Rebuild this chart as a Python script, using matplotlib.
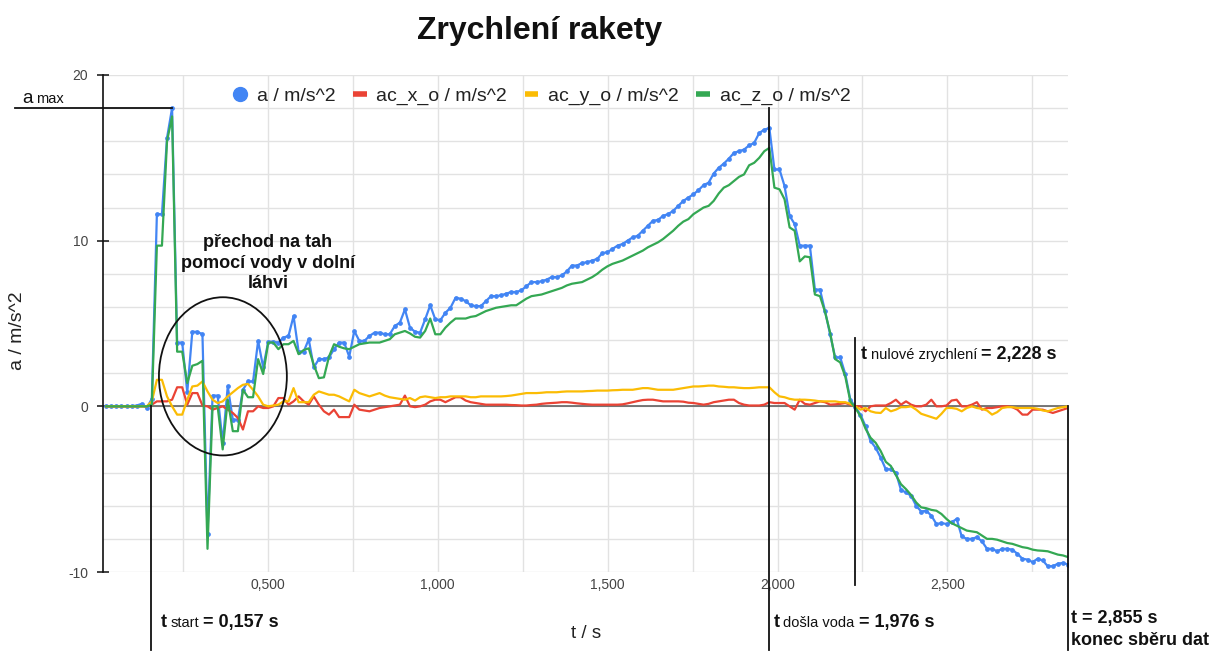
import numpy as np
import matplotlib.pyplot as plt
from matplotlib.patches import Ellipse
from matplotlib.lines import Line2D
from matplotlib.ticker import MultipleLocator, FixedLocator, FixedFormatter

plt.rcParams['font.family'] = ['Liberation Sans', 'DejaVu Sans']
plt.rcParams['axes.unicode_minus'] = False

# accelerometer log, one value per sample (m/s^2)
a_total = [
    0, 0, 0, 0, 0, 0, 0.05, 0.15, -0.1, 0.45,
    11.6, 11.6, 16.2, 18.0, 3.85, 3.85, 0.85, 4.5, 4.5, 4.35,
    -7.7, 0.65, 0.65, -2.2, 1.2, -0.8, -0.8, 1.0, 1.5, 1.5,
    3.95, 2.35, 3.9, 3.9, 3.85, 4.15, 4.25, 5.45, 3.3, 3.3,
    4.05, 2.35, 2.85, 2.85, 2.95, 3.45, 3.85, 3.85, 3.0, 4.55,
    3.95, 3.95, 4.25, 4.45, 4.45, 4.35, 4.35, 4.85, 5.05, 5.85,
    4.75, 4.5, 4.45, 5.25, 6.1, 5.25, 5.2, 5.65, 5.95, 6.55,
    6.5, 6.35, 6.1, 6.05, 6.05, 6.35, 6.65, 6.65, 6.7, 6.8,
    6.9, 6.9, 7.0, 7.25, 7.5, 7.5, 7.55, 7.65, 7.8, 7.8,
    7.9, 8.15, 8.5, 8.5, 8.65, 8.7, 8.8, 8.9, 9.25, 9.3,
    9.5, 9.7, 9.8, 10.0, 10.2, 10.3, 10.6, 10.9, 11.2, 11.25,
    11.5, 11.6, 11.8, 12.1, 12.4, 12.6, 12.8, 13.05, 13.35, 13.5,
    14.05, 14.4, 14.65, 14.95, 15.3, 15.4, 15.5, 15.75, 15.9, 16.5,
    16.7, 16.8, 14.3, 14.3, 13.3, 11.5, 11.0, 9.7, 9.7, 9.7,
    7.05, 7.05, 5.75, 4.35, 2.95, 2.95, 1.95, 0.4, -0.05, -0.5,
    -1.2, -2.1, -2.5, -3.1, -3.8, -3.8, -4.0, -5.05, -5.2, -5.4,
    -6.0, -6.35, -6.3, -6.6, -7.1, -7.05, -7.1, -7.0, -6.8, -7.85,
    -8.0, -8.0, -7.9, -8.15, -8.6, -8.6, -8.75, -8.6, -8.6, -8.65,
    -8.9, -9.2, -9.25, -9.4, -9.2, -9.3, -9.65, -9.65, -9.5, -9.45,
    -9.55,
]
ac_x = [
    0, 0, 0, 0, 0, 0, 0, 0, 0, 0.1,
    0.3, 0.3, 0.3, 0.4, 1.15, 1.15, 0.1, 0.8, 0.8, 0.05,
    0, -0.2, -0.1, 0, -0.2, -0.4, -0.7, -1.4, -0.3, -0.3,
    0, -0.1, -0.1, 0, 0.5, 0.5, 0.1, 0.3, 0.6, 0.3,
    0.1, 0.6, 0.1, -0.3, -0.5, -0.2, -0.65, -0.65, -0.65, 0.1,
    -0.2, -0.25, -0.3, -0.2, -0.1, -0.05, 0, 0.05, 0.1, 0.65,
    0, -0.05, 0, 0.1, 0.3, 0.4, 0.4, 0.25, 0.4, 0.55,
    0.55, 0.35, 0.25, 0.2, 0.15, 0.1, 0.1, 0.1, 0.1, 0.1,
    0.08, 0.07, 0.05, 0.05, 0.08, 0.1, 0.15, 0.18, 0.2, 0.22,
    0.25, 0.25, 0.22, 0.18, 0.15, 0.12, 0.1, 0.1, 0.1, 0.1,
    0.1, 0.1, 0.12, 0.18, 0.25, 0.32, 0.38, 0.4, 0.4, 0.35,
    0.3, 0.3, 0.3, 0.3, 0.28, 0.22, 0.2, 0.15, 0.1, 0.15,
    0.25, 0.3, 0.35, 0.4, 0.4, 0.2, 0.1, 0.05, 0.05, 0.05,
    0.1, 0.25, 0.2, 0.2, 0.2, 0.0, -0.2, 0.4, 0.15, 0.1,
    0.2, 0.3, 0.25, 0.1, 0.12, 0.15, 0.2, 0.1, 0, 0,
    -0.3, 0, 0.05, 0.05, 0.05, 0.2, 0.4, 0.1, 0.3, 0.1,
    0, 0, 0.1, 0.4, 0, 0, 0.05, 0.35, 0.4, 0,
    0, 0.1, 0.25, -0.2, -0.1, -0.1, -0.05, 0, 0, -0.05,
    -0.2, -0.5, -0.5, -0.2, -0.2, -0.2, -0.3, -0.4, -0.3, -0.2,
    -0.1,
]
ac_y = [
    0, 0, 0, 0, 0, 0, 0, 0, 0, 0.3,
    1.6, 1.6, 0.6, 0, -0.5, -0.5, 0.4, 1.2, 1.25, 1.5,
    0.9, 0.4, 0.2, 0.3, 0.6, 0.85, 1.1, 1.3, 1.35, 1.0,
    0.6, 0.1, 0, 0.05, 0.1, 0.3, 0.3, 1.1, 0.25, 0.25,
    0.25, 0.7, 0.9, 0.8, 0.7, 0.7, 0.6, 0.45, 0.3, 1.0,
    0.8, 0.7, 0.6, 0.7, 0.8, 0.65, 0.55, 0.5, 0.45, 0.4,
    0.5, 0.35, 0.55, 0.6, 0.55, 0.5, 0.55, 0.55, 0.6, 0.6,
    0.6, 0.6, 0.55, 0.55, 0.6, 0.6, 0.6, 0.6, 0.6, 0.62,
    0.65, 0.7, 0.75, 0.8, 0.8, 0.8, 0.82, 0.85, 0.85, 0.85,
    0.88, 0.9, 0.9, 0.9, 0.9, 0.92, 0.93, 0.95, 0.95, 0.95,
    0.97, 0.98, 1.0, 1.0, 1.0, 1.05, 1.1, 1.1, 1.05, 1.0,
    1.0, 1.0, 1.0, 1.05, 1.1, 1.15, 1.2, 1.2, 1.22, 1.25,
    1.25, 1.2, 1.18, 1.15, 1.15, 1.12, 1.1, 1.1, 1.12, 1.15,
    1.15, 1.15, 0.85, 0.6, 0.55, 0.45, 0.4, 0.4, 0.4, 0.38,
    0.35, 0.3, 0.3, 0.3, 0.3, 0.25, 0.25, 0.15, 0.0, -0.2,
    -0.1, -0.3, -0.38, -0.4, -0.1, -0.3, -0.2, -0.05, -0.05, 0,
    -0.2, -0.45, -0.55, -0.65, -0.75, -0.45, -0.1, -0.1, -0.15, -0.3,
    -0.1, 0, -0.1, -0.15, -0.25, -0.5, -0.35, -0.1, -0.05, -0.05,
    -0.1, -0.1, -0.1, -0.1, -0.15, -0.25, -0.3, -0.2, -0.1, -0.05,
    0,
]
ac_z = [
    0, 0, 0, 0, 0, 0, 0, 0, 0, 0.1,
    9.7, 9.7, 16.0, 17.5, 3.3, 3.3, 1.4, 2.45, 2.55, 2.75,
    -8.6, 0, 0, -2.6, 0.4, -1.5, -1.5, 1.0, 0.55, 0.55,
    2.85, 1.95, 3.85, 3.85, 3.45, 3.75, 3.75, 3.95, 3.15, 3.4,
    3.5, 2.5, 1.7, 1.75, 3.0, 3.75, 3.6, 3.5, 3.45, 3.6,
    3.75, 3.8, 3.85, 3.85, 3.85, 3.95, 4.05, 4.35, 4.45, 4.55,
    4.4, 4.2, 4.15, 4.55, 5.3, 4.35, 4.35, 4.75, 5.05, 5.3,
    5.3, 5.3, 5.4, 5.45, 5.6, 5.75, 5.85, 5.95, 6.0, 6.05,
    6.1, 6.1, 6.3, 6.5, 6.65, 6.7, 6.75, 6.85, 6.95, 7.05,
    7.15, 7.3, 7.4, 7.45, 7.5, 7.65, 7.8, 8.0, 8.25, 8.45,
    8.6, 8.7, 8.8, 8.95, 9.1, 9.25, 9.4, 9.6, 9.75, 9.9,
    10.1, 10.35, 10.6, 10.9, 11.15, 11.3, 11.6, 11.8, 12.0, 12.1,
    12.4, 12.85, 13.2, 13.35, 13.6, 13.85, 14.0, 14.55, 14.7, 15.0,
    15.4, 15.6, 13.2, 13.1, 12.5, 10.8, 10.6, 8.75, 9.05, 9.0,
    6.75, 6.65, 5.7, 4.45, 2.85, 2.65, 1.8, 0.3, -0.1, -0.6,
    -1.35, -1.9, -2.2, -2.7, -3.35, -3.6, -4.15, -4.7, -5.0, -5.35,
    -5.8, -6.1, -6.15, -6.25, -6.3, -6.5, -6.8, -7.05, -7.2, -7.35,
    -7.5, -7.55, -7.6, -7.8, -8.0, -8.0, -8.05, -8.15, -8.25, -8.3,
    -8.4, -8.5, -8.55, -8.65, -8.7, -8.72, -8.75, -8.85, -8.95, -9.0,
    -9.1,
]

# key moments of the flight (s)
T_START = 0.157
T_WATER_OUT = 1.976
T_ZERO = 2.228
T_END = 2.855
SAMPLE_DT = (T_END - T_WATER_OUT) / 59

x_ticks = [0.5, 1.0, 1.5, 2.0, 2.5]
x_tick_labels = ["0,500", "1,000", "1,500", "2,000", "2,500"]
y_ticks = [-10, 0, 10, 20]

series_labels = ["a / m/s^2", "ac_x_o / m/s^2", "ac_y_o / m/s^2", "ac_z_o / m/s^2"]
BLUE, RED, YELLOW, GREEN = "#4285F4", "#EA4335", "#FBBC04", "#34A853"

t = T_END - SAMPLE_DT * np.arange(len(a_total))[::-1]

W, H = 1232, 652
fig = plt.figure(figsize=(W / 100, H / 100), dpi=100)
ax = fig.add_axes([103 / W, 1 - 572 / H, (1068 - 103) / W, (572 - 75) / H])

ax.plot(t, a_total, color=BLUE, lw=1.6, marker="o", ms=2.4, zorder=3)
ax.plot(t, ac_x, color=RED, lw=1.6, zorder=4)
ax.plot(t, ac_y, color=YELLOW, lw=1.6, zorder=5)
ax.plot(t, ac_z, color=GREEN, lw=1.6, zorder=6)

ax.set_xlim(0.0147, T_END)
ax.set_ylim(-10, 20)

ax.xaxis.set_major_locator(FixedLocator(x_ticks))
ax.xaxis.set_major_formatter(FixedFormatter(x_tick_labels))
ax.xaxis.set_minor_locator(MultipleLocator(0.25))
ax.yaxis.set_major_locator(FixedLocator(y_ticks))
ax.yaxis.set_minor_locator(MultipleLocator(2))
ax.grid(which="both", color="#e2e2e2", lw=1, zorder=0)
ax.axhline(0, color="#555555", lw=1.1, zorder=2)

for side in ["top", "right", "bottom"]:
    ax.spines[side].set_visible(False)
ax.spines["left"].set_color("#111111")
ax.spines["left"].set_linewidth(1.2)
ax.tick_params(axis="y", which="major", direction="inout", length=8.6, width=1.1,
               color="#111111", pad=6.5, labelsize=10, labelcolor="#444444")
ax.tick_params(axis="y", which="minor", length=0)
ax.tick_params(axis="x", which="both", length=0, pad=4, labelsize=10, labelcolor="#444444")

handles = [
    Line2D([], [], color=BLUE, marker="o", ls="none", ms=10),
    Line2D([], [], color=RED, lw=4, solid_capstyle="butt"),
    Line2D([], [], color=YELLOW, lw=4, solid_capstyle="butt"),
    Line2D([], [], color=GREEN, lw=4, solid_capstyle="butt"),
]
leg = ax.legend(handles, series_labels, ncol=4, loc="center",
                bbox_to_anchor=((542 - 103) / 965, (572 - 96) / 497),
                frameon=False, fontsize=14, handlelength=0.7, handletextpad=0.5,
                columnspacing=0.9, labelcolor="#222222")

# hand-drawn style markers of the key moments
ink = dict(color="#111111", lw=1.3, clip_on=False, zorder=8)
i_max = int(np.argmax(a_total))
a_max = a_total[i_max]
x_left = 0.0147 - 0.091 * (T_END - 0.0147)
ax.plot([x_left, t[i_max]], [a_max, a_max], **ink)
ax.plot([T_START, T_START], [0, -14.7], **ink)
ax.plot([T_WATER_OUT, T_WATER_OUT], [max(a_total), -14.7], **ink)
ax.plot([T_ZERO, T_ZERO], [4.1, -10.8], **ink)
ax.plot([T_END, T_END], [0, -14.7], **ink)

ax.add_patch(Ellipse((0.3676, 1.81), width=0.3765, height=9.55, fill=False,
                     ec="#111111", lw=1.3, zorder=8, clip_on=False))
ax.text(0.5, 8.64, "přechod na tah\npomocí vody v dolní\nláhvi", ha="center", va="center",
        fontsize=13, fontweight="bold", linespacing=1.25, color="#111111", zorder=9)

renderer = fig.canvas.get_renderer()


def label_run(x_px, y_px, pieces):
    # pieces placed one after another on a shared baseline
    x = x_px
    for text, size, weight, gap in pieces:
        txt = fig.text(x / W, 1 - y_px / H, text, fontsize=size, fontweight=weight,
                       ha="left", va="baseline", color="#111111")
        x = txt.get_window_extent(renderer).x1 + gap


def line_px(tv):
    return ax.transData.transform((tv, 0))[0]


BIG, SMALL = 13, 10.5
label_run(22, 103, [("a", 13.5, "normal", 4), ("max", SMALL, "normal", 0)])
label_run(line_px(T_START) + 9, 627,
          [("t", BIG, "bold", 4), ("start", SMALL, "normal", 4), ("= 0,157 s", BIG, "bold", 0)])
label_run(line_px(T_WATER_OUT) + 4, 627,
          [("t", BIG, "bold", 4), ("došla voda", SMALL, "normal", 4), ("= 1,976 s", BIG, "bold", 0)])
label_run(line_px(T_ZERO) + 6, 359,
          [("t", BIG, "bold", 4), ("nulové zrychlení", SMALL, "normal", 4), ("= 2,228 s", BIG, "bold", 0)])
label_run(line_px(T_END) + 3, 623, [("t = 2,855 s", BIG, "bold", 0)])
label_run(line_px(T_END) + 3, 645, [("konec sběru dat", BIG, "bold", 0)])

fig.text(540 / W, 1 - 31 / H, "Zrychlení rakety", fontsize=23, fontweight="bold",
         ha="center", va="center", color="#111111")
fig.text(18 / W, 1 - 331 / H, "a / m/s^2", rotation=90, fontsize=14,
         ha="center", va="center", color="#222222")
fig.text(586 / W, 1 - 634 / H, "t / s", fontsize=13.5, ha="center", va="center",
         color="#222222")

fig.savefig("out.png", dpi=100)
